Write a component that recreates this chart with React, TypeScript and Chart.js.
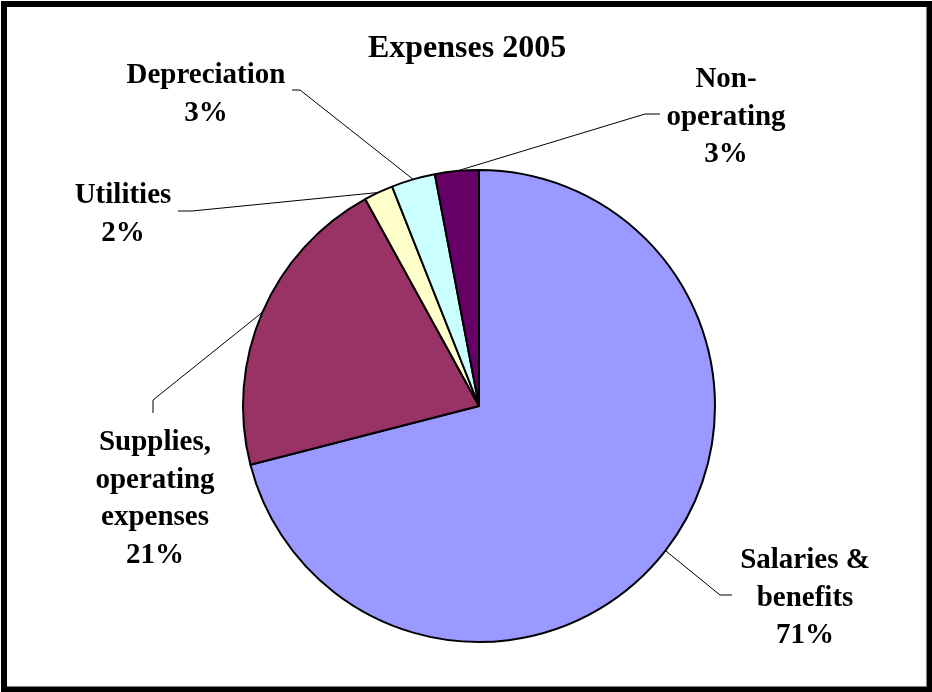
import React, { useEffect, useRef } from "react";
import { Chart, registerables } from "chart.js";

Chart.register(...registerables);

const TITLE = "Expenses 2005";
const CATEGORY_LINES: string[][] = [
  ["Salaries &", "benefits"],
  ["Supplies,", "operating", "expenses"],
  ["Utilities"],
  ["Depreciation"],
  ["Non-", "operating"],
];
const VALUES = [71, 21, 2, 3, 3];
const COLORS = ["#9999FF", "#993366", "#FFFFCC", "#CCFFFF", "#660066"];

// label text placement (center x, first baseline y) and leader-line bend points
const LABEL_LAYOUT = [
  { x: 805, y: 568, path: [[720, 595], [732, 595]] },
  { x: 155, y: 450, path: [[153, 400], [153, 413]] },
  { x: 123, y: 203, path: [[192, 211], [178, 211]] },
  { x: 206, y: 83, path: [[300, 90], [292, 90]] },
  { x: 726, y: 87, path: [[645, 114], [660, 114]] },
];
const LINE_H = 37.5;
const FONT = '"Liberation Serif", "Times New Roman", serif';

const framePlugin = {
  id: "frame",
  beforeDraw(chart: any) {
    const ctx = chart.ctx;
    ctx.save();
    ctx.fillStyle = "#000";
    ctx.fillRect(1, 1, chart.width - 1, chart.height - 1);
    ctx.fillStyle = "#fff";
    ctx.fillRect(7, 7, 919, 679);
    ctx.fillStyle = "#808080";
    ctx.fillRect(926, 7, 1, 680);
    ctx.fillRect(7, 686, 920, 1);
    ctx.restore();
  },
};

const labelPlugin = {
  id: "pieLabels",
  afterDraw(chart: any) {
    const ctx = chart.ctx;
    const meta = chart.getDatasetMeta(0);
    const total = VALUES.reduce((a, b) => a + b, 0);
    ctx.save();
    // title
    ctx.fillStyle = "#000";
    ctx.font = `bold 32px ${FONT}`;
    ctx.textAlign = "center";
    ctx.textBaseline = "alphabetic";
    ctx.fillText(TITLE, 467, 57);

    meta.data.forEach((arc: any, i: number) => {
      const p = arc.getProps(["x", "y", "startAngle", "endAngle", "outerRadius"], true);
      const mid = (p.startAngle + p.endAngle) / 2;
      const sx = p.x + Math.cos(mid) * p.outerRadius;
      const sy = p.y + Math.sin(mid) * p.outerRadius;
      const lay = LABEL_LAYOUT[i];
      ctx.strokeStyle = "#000";
      ctx.lineWidth = 1;
      ctx.beginPath();
      ctx.moveTo(sx, sy);
      lay.path.forEach(([x, y]) => ctx.lineTo(x, y));
      ctx.stroke();

      const lines = [...CATEGORY_LINES[i], Math.round((VALUES[i] / total) * 100) + "%"];
      ctx.font = `bold 29px ${FONT}`;
      ctx.fillStyle = "#000";
      ctx.textAlign = "center";
      lines.forEach((t, k) => ctx.fillText(t, lay.x, lay.y + k * LINE_H));
    });
    ctx.restore();
  },
};

export default function App() {
  const ref = useRef<HTMLCanvasElement | null>(null);
  useEffect(() => {
    if (!ref.current) return;
    const chart = new Chart(ref.current, {
      type: "pie",
      data: {
        labels: CATEGORY_LINES.map((l) => l.join(" ")),
        datasets: [
          {
            data: VALUES,
            backgroundColor: COLORS,
            borderColor: "#000",
            borderWidth: 2,
          },
        ],
      },
      options: {
        responsive: false,
        animation: false,
        radius: 236,
        layout: { padding: { left: 130, right: 104, top: 160, bottom: 40 } },
        plugins: {
          legend: { display: false },
          title: { display: false },
          tooltip: { enabled: false },
        },
      } as any,
      plugins: [framePlugin, labelPlugin],
    });
    return () => chart.destroy();
  }, []);
  return (
    <div style={{ position: "absolute", left: 0, top: 0, width: 932, height: 692 }}>
      <canvas ref={ref} width={932} height={692} style={{ width: 932, height: 692, display: "block" }} />
    </div>
  );
}
